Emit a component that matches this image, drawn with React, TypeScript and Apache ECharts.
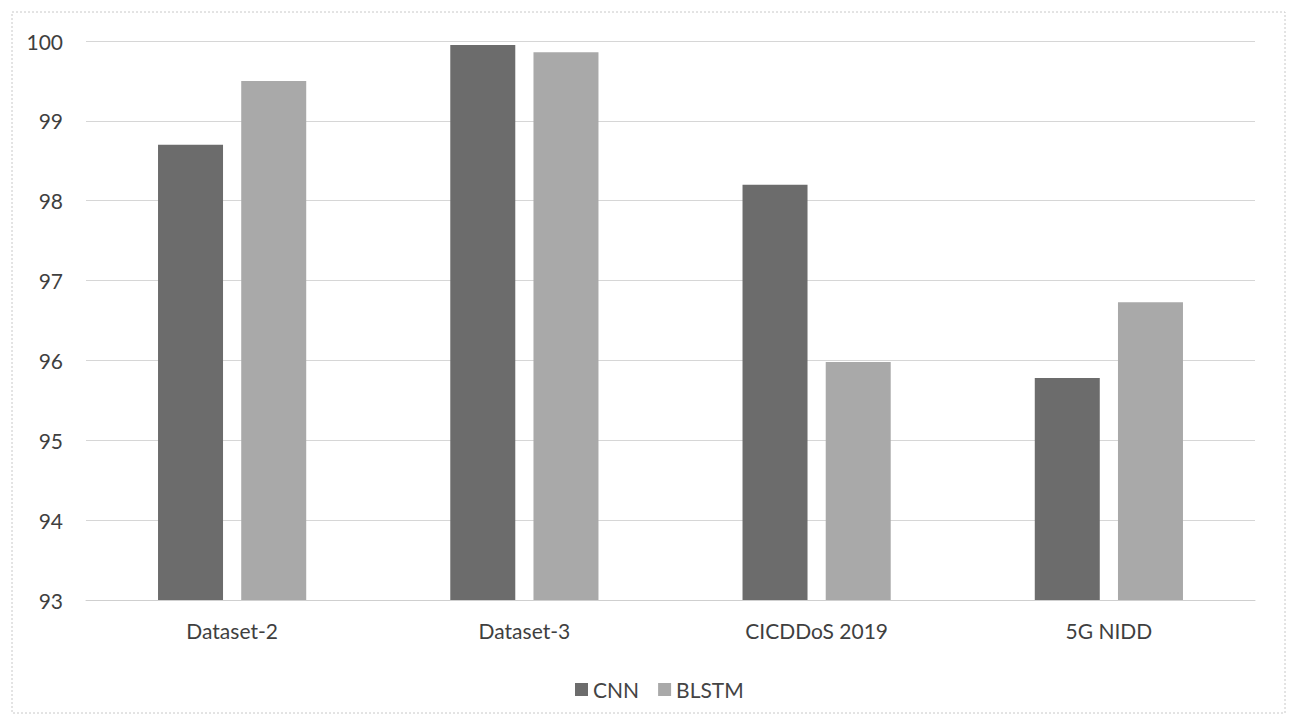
import React, { useEffect, useRef } from "react";
import * as echarts from "echarts";

const categories = ["Dataset-2", "Dataset-3", "CICDDoS 2019", "5G NIDD"];
const cnnValues = [98.7, 99.95, 98.2, 95.78];
const blstmValues = [99.5, 99.86, 95.98, 96.73];
const seriesNames = ["CNN", "BLSTM"];
const yMin = 93;
const yMax = 100;
const yStep = 1;

const FONT = "Lato, 'Open Sans', sans-serif";

export default function App() {
  const ref = useRef<HTMLDivElement>(null);
  useEffect(() => {
    document.body.style.margin = "0";
    const chart = echarts.init(ref.current!, null, { renderer: "svg" });
    chart.setOption({
      animation: false,
      backgroundColor: "#ffffff",
      textStyle: { fontFamily: FONT },
      graphic: [
        {
          type: "rect",
          shape: { x: 12, y: 12, width: 1273, height: 701 },
          style: { fill: "none", stroke: "#c8c8c8", lineWidth: 1, lineDash: [2, 2] },
          silent: true,
        },
      ],
      grid: { left: 86, right: 35, top: 41, bottom: 117, containLabel: false },
      legend: {
        data: seriesNames,
        top: 674,
        left: 570,
        itemWidth: 13,
        itemHeight: 13,
        itemGap: 19,
        icon: "rect",
        textStyle: { fontFamily: FONT, fontSize: 21, color: "#444444" },
      },
      xAxis: {
        type: "category",
        data: categories,
        axisLine: { show: true, lineStyle: { color: "#cfcfcf", width: 1 } },
        axisTick: { show: false },
        axisLabel: { margin: 20, fontFamily: FONT, fontSize: 21, color: "#3f3f3f" },
      },
      yAxis: {
        type: "value",
        min: yMin,
        max: yMax,
        interval: yStep,
        axisLine: { show: false },
        axisTick: { show: false },
        splitLine: { show: true, lineStyle: { color: "#d6d6d6", width: 1 } },
        axisLabel: { margin: 23, fontFamily: FONT, fontSize: 21, color: "#3f3f3f" },
      },
      series: [
        {
          name: seriesNames[0],
          type: "bar",
          data: cnnValues,
          barWidth: 65,
          barGap: "28%",
          itemStyle: { color: "#6c6c6c" },
        },
        {
          name: seriesNames[1],
          type: "bar",
          data: blstmValues,
          barWidth: 65,
          barGap: "28%",
          itemStyle: { color: "#a9a9a9" },
        },
      ],
    });
    return () => chart.dispose();
  }, []);
  return <div ref={ref} style={{ width: 1290, height: 717 }} />;
}
